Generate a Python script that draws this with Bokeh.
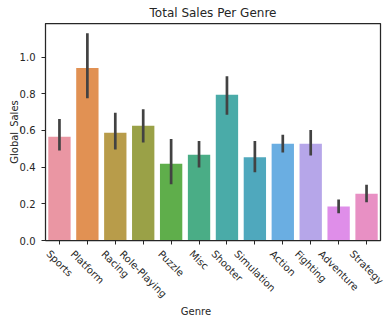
import math
from bokeh.plotting import figure
from bokeh.models import (ColumnDataSource, FixedTicker, Range1d, FactorRange,
                          NumeralTickFormatter)
from bokeh.core.properties import value
from bokeh.embed import file_html
from bokeh.resources import INLINE

genres = ["Sports", "Platform", "Racing", "Role-Playing", "Puzzle", "Misc",
          "Shooter", "Simulation", "Action", "Fighting", "Adventure", "Strategy"]
mean_sales = [0.566, 0.940, 0.588, 0.625, 0.418, 0.468, 0.794, 0.454, 0.528, 0.528, 0.185, 0.255]
ci_low = [0.491, 0.776, 0.496, 0.534, 0.306, 0.398, 0.686, 0.372, 0.480, 0.463, 0.148, 0.208]
ci_high = [0.663, 1.130, 0.696, 0.716, 0.554, 0.543, 0.896, 0.543, 0.576, 0.603, 0.223, 0.304]
colors = ["#ea96a3", "#e19153", "#b89c4a", "#9aa147", "#5fae4b", "#4aad86",
          "#4aaba8", "#4fa8bd", "#6aaee2", "#b6a6e9", "#df8ee9", "#e890c4"]
y_ticks = [0.0, 0.2, 0.4, 0.6, 0.8, 1.0]

TXT = "#262626"
FONT = "DejaVu Sans"

W, H = 391, 319
BL, BR, BT = 45, 11, 23
MAIN_H = 246
LAB_H = H - MAIN_H
GENRE_PANEL = 19

# approximate DejaVu Sans advance widths (units per 2048 em) to centre rotated labels like matplotlib
ADV = {'-': 739, 'A': 1401, 'F': 1178, 'M': 1767, 'P': 1235, 'R': 1423, 'S': 1300,
       'a': 1255, 'c': 1126, 'd': 1300, 'e': 1260, 'f': 721, 'g': 1300, 'h': 1298,
       'i': 569, 'l': 569, 'm': 1995, 'n': 1298, 'o': 1253, 'p': 1300, 'r': 842,
       's': 1067, 't': 803, 'u': 1298, 'v': 1212, 'y': 1212, 'z': 1075}
FS = 10.0
LINE_H = 11.6
c45 = math.cos(math.pi / 4)

def text_w(s):
    return sum(ADV.get(ch, 1200) for ch in s) / 2048.0 * FS

src = ColumnDataSource(dict(genre=genres, mean=mean_sales, lo=ci_low, hi=ci_high, color=colors))

p = figure(width=W, height=MAIN_H, x_range=FactorRange(*genres, range_padding=0),
           y_range=Range1d(0, 1.183), output_backend="svg", toolbar_location=None,
           title="Total Sales Per Genre",
           min_border_left=BL, min_border_right=BR, min_border_top=BT, min_border_bottom=6)

p.vbar(x="genre", top="mean", width=0.8, color="color", line_color=None, source=src)
p.segment(x0="genre", x1="genre", y0="lo", y1="hi", line_color="#424242", line_width=2.7, source=src)

p.title.align = "center"
p.title.text_font = FONT
p.title.text_font_size = "12px"
p.title.text_font_style = "normal"
p.title.text_color = TXT
p.title.offset = 0
p.title.standoff = 7

p.xgrid.visible = False
p.ygrid.visible = False
p.outline_line_color = TXT
p.outline_line_width = 1.25
p.background_fill_color = "white"
p.border_fill_color = "white"

for ax in (p.xaxis[0], p.yaxis[0]):
    ax.axis_line_color = TXT
    ax.major_tick_line_color = TXT
    ax.major_tick_out = 4
    ax.major_tick_in = 0
    ax.minor_tick_line_color = None
    ax.major_label_text_font = FONT
    ax.major_label_text_font_size = "10px"
    ax.major_label_text_color = TXT
    ax.axis_label_text_font = FONT
    ax.axis_label_text_font_size = "10px"
    ax.axis_label_text_color = TXT
    ax.axis_label_text_font_style = "normal"

p.yaxis.ticker = FixedTicker(ticks=y_ticks)
p.yaxis.formatter = NumeralTickFormatter(format="0.0")
p.yaxis.axis_label = "Global_Sales"
p.yaxis.major_label_standoff = 6
p.yaxis.axis_label_standoff = -3

# x tick labels are drawn below (rotated, centred like matplotlib); keep only the ticks here
p.xaxis.major_label_text_font_size = "0px"
p.xaxis.major_label_text_color = None
p.xaxis.major_label_standoff = 0

# ---- rotated category labels (separate root so its frame spans the full width) ----
unit = (W - BL - BR) / len(genres)
lab_frame_h = LAB_H - GENRE_PANEL
lab_x = [i + 0.5 for i in range(len(genres))]
lab_y = [(247.5 - MAIN_H) + (text_w(g) + LINE_H) * c45 / 2.0 for g in genres]
lsrc = ColumnDataSource(dict(x=lab_x, y=lab_y, text=genres))

q = figure(width=W, height=LAB_H, x_range=Range1d(-BL / unit, len(genres) + BR / unit),
           y_range=Range1d(lab_frame_h, 0), output_backend="svg", toolbar_location=None,
           y_axis_location=None,
           min_border_left=0, min_border_right=0, min_border_top=0, min_border_bottom=GENRE_PANEL)
q.text(x="x", y="y", text="text", source=lsrc, angle=-math.pi / 4,
       text_align="center", text_baseline="middle", text_font=value(FONT),
       text_font_size="10px", text_color=TXT)
q.xgrid.visible = False
q.ygrid.visible = False
q.outline_line_color = None
q.background_fill_color = "white"
q.border_fill_color = "white"
xa = q.xaxis[0]
xa.ticker = FixedTicker(ticks=[])
xa.axis_line_color = None
xa.major_tick_line_color = None
xa.minor_tick_line_color = None
xa.major_tick_out = 0
xa.major_label_standoff = 0
xa.axis_label = "Genre"
xa.axis_label_standoff = 5
xa.axis_label_text_font = FONT
xa.axis_label_text_font_size = "10px"
xa.axis_label_text_color = TXT
xa.axis_label_text_font_style = "normal"

open("out.html", "w").write(file_html([p, q], INLINE))
